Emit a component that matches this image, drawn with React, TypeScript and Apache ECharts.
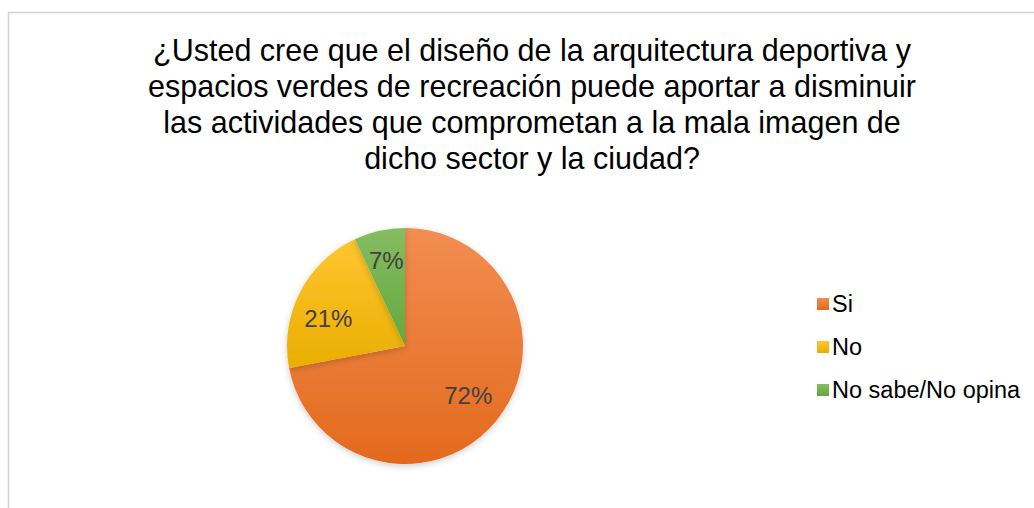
import React, { useEffect, useRef } from "react";
import * as echarts from "echarts";

const titleLines = [
  "¿Usted cree que el diseño de la arquitectura deportiva y",
  "espacios verdes de recreación puede aportar a disminuir",
  "las actividades que comprometan a la mala imagen de",
  "dicho sector y la ciudad?",
];
const categories = ["Si", "No", "No sabe/No opina"];
const values = [72, 21, 7];
const topColors = ["#F28D52", "#FFC530", "#86BC62"];
const bottomColors = ["#E36A1D", "#EAAE00", "#64A83C"];
const labelOffsets = [[-3, -5], [0, 12], [0, -2]];

export default function App() {
  const ref = useRef<HTMLDivElement>(null);
  useEffect(() => {
    if (!ref.current) return;
    const chart = echarts.init(ref.current, undefined, { renderer: "svg" });
    const data = categories.map((name, i) => ({
      name,
      value: values[i],
      itemStyle: {
        color: new echarts.graphic.LinearGradient(0, 0, 0, 1, [
          { offset: 0, color: topColors[i] },
          { offset: 1, color: bottomColors[i] },
        ]),
      },
    }));
    const labelData = categories.map((name, i) => ({
      name,
      value: values[i],
      label: { offset: labelOffsets[i] },
    }));
    chart.setOption({
      animation: false,
      backgroundColor: "#ffffff",
      title: {
        text: titleLines.join("\n"),
        left: 527,
        textAlign: "center",
        top: 27,
        textStyle: {
          fontFamily: "Liberation Sans, Arial, sans-serif",
          fontSize: 30.5,
          fontWeight: "normal",
          color: "#000000",
          lineHeight: 36,
        },
      },
      legend: {
        orient: "vertical",
        left: 812,
        top: 287,
        icon: "rect",
        itemWidth: 12,
        itemHeight: 12,
        itemGap: 19,
        data: categories,
        textStyle: {
          fontFamily: "Liberation Sans, Arial, sans-serif",
          fontSize: 23.5,
          color: "#000000",
          padding: [0, 0, 0, -2],
        },
      },
      graphic: [
        {
          type: "rect",
          shape: { x: 8.5, y: 12.5, width: 1100, height: 600 },
          style: { fill: "none", stroke: "#d4d4d4", lineWidth: 1.5 },
          silent: true,
        },
      ],
      series: [
        {
          type: "pie",
          center: [405, 346],
          radius: [0, 118],
          startAngle: 90,
          clockwise: true,
          label: { show: false },
          labelLine: { show: false },
          itemStyle: {
            shadowBlur: 6,
            shadowOffsetY: 2,
            shadowColor: "rgba(0,0,0,0.2)",
          },
          emphasis: { disabled: true },
          data,
        },
        {
          type: "pie",
          center: [405, 346],
          radius: [0, 166],
          startAngle: 90,
          clockwise: true,
          silent: true,
          itemStyle: { color: "rgba(0,0,0,0)", borderWidth: 0 },
          label: {
            show: true,
            position: "inside",
            formatter: (p: any) => `${p.value}%`,
            fontFamily: "Liberation Sans, Arial, sans-serif",
            fontSize: 24,
            color: "#404040",
          },
          labelLine: { show: false },
          emphasis: { disabled: true },
          data: labelData,
        },
      ],
    });
    return () => chart.dispose();
  }, []);
  return (
    <div
      ref={ref}
      style={{ position: "fixed", left: 0, top: 0, width: 1034, height: 508 }}
    />
  );
}
